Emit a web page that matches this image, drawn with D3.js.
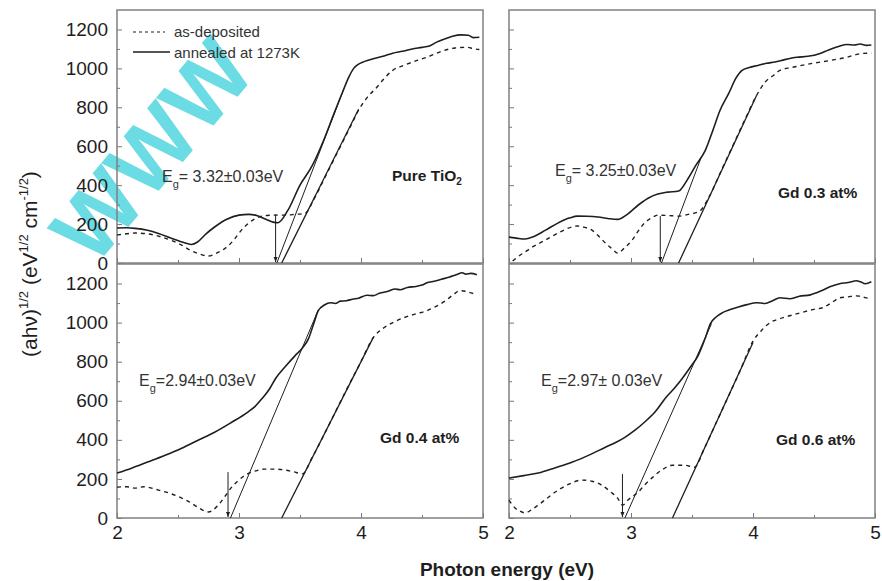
<!DOCTYPE html>
<html><head><meta charset="utf-8">
<script src="https://cdn.jsdelivr.net/npm/d3@7"></script>
<style>
body{margin:0;background:#fff;}
text{font-family:"Liberation Sans",Arial,sans-serif;}
</style>
</head><body>
<svg id="chart" width="882" height="581"></svg>
<script>
// ---------- DATA ----------
const xTickValues = [2, 3, 4, 5];
const xMinorTicks = [2.5, 3.5, 4.5];
const yTickValues = [0, 200, 400, 600, 800, 1000, 1200];
const yMinorTicks = [100, 300, 500, 700, 900, 1100];
const seriesNames = ["as-deposited", "annealed at 1273K"];
const panelTitles = ["Pure TiO", "Gd 0.3 at%", "Gd 0.4 at%", "Gd 0.6 at%"];
const gapLabels = ["3.32\u00B10.03eV", "3.25\u00B10.03eV", "2.94\u00B10.03eV", "2.97\u00B1 0.03eV"];

// Pure TiO2
const tio2Annealed = [[2.00,180],[2.08,181],[2.15,178],[2.25,168],[2.34,152],[2.45,126],[2.56,103],[2.61,95],[2.66,108],[2.73,150],[2.80,185],[2.90,225],[3.00,246],[3.08,250],[3.15,243],[3.22,225],[3.28,210],[3.32,207],[3.40,270],[3.50,400],[3.60,500],[3.70,640],[3.78,770],[3.85,880],[3.90,955],[3.94,1000],[3.98,1022],[4.03,1036],[4.10,1050],[4.18,1062],[4.26,1078],[4.34,1088],[4.42,1100],[4.50,1108],[4.56,1115],[4.62,1135],[4.68,1150],[4.75,1165],[4.82,1172],[4.88,1170],[4.92,1158],[4.97,1160]];
const tio2Deposited = [[2.00,144],[2.08,150],[2.15,154],[2.25,150],[2.34,138],[2.45,115],[2.53,92],[2.60,66],[2.66,50],[2.75,36],[2.82,52],[2.89,77],[2.96,120],[3.02,169],[3.09,210],[3.16,236],[3.23,244],[3.30,246],[3.38,246],[3.46,250],[3.54,255],[3.62,335],[3.72,460],[3.82,585],[3.92,710],[3.98,785],[4.05,850],[4.13,903],[4.20,955],[4.26,990],[4.35,1015],[4.46,1041],[4.56,1062],[4.67,1090],[4.77,1105],[4.87,1108],[4.93,1100],[4.97,1097]];
const tio2TangentAnnealed = [[3.31,0],[3.86,895]];
const tio2TangentDeposited = [[3.35,0],[3.98,790]];
const tio2Arrow = [3.30, 250];

// Gd 0.3 at%
const gd03Annealed = [[2.00,133],[2.06,128],[2.13,123],[2.20,135],[2.30,169],[2.40,205],[2.50,232],[2.56,241],[2.64,240],[2.73,236],[2.81,229],[2.89,224],[2.97,250],[3.06,298],[3.14,333],[3.22,354],[3.30,364],[3.39,370],[3.46,426],[3.53,500],[3.61,580],[3.67,680],[3.73,785],[3.80,870],[3.86,950],[3.91,990],[3.97,1005],[4.04,1015],[4.11,1026],[4.18,1033],[4.26,1045],[4.36,1057],[4.45,1062],[4.55,1077],[4.62,1095],[4.70,1112],[4.77,1123],[4.83,1120],[4.88,1125],[4.93,1118],[4.97,1120]];
const gd03Deposited = [[2.03,10],[2.09,40],[2.13,56],[2.20,85],[2.30,118],[2.42,160],[2.56,190],[2.62,183],[2.68,169],[2.74,135],[2.79,103],[2.85,70],[2.89,51],[2.95,80],[3.01,118],[3.06,165],[3.11,205],[3.17,232],[3.22,246],[3.30,244],[3.39,241],[3.47,250],[3.56,265],[3.64,340],[3.74,475],[3.84,610],[3.94,745],[4.03,862],[4.10,930],[4.17,965],[4.22,990],[4.32,1005],[4.42,1018],[4.49,1026],[4.58,1035],[4.67,1045],[4.77,1057],[4.85,1072],[4.90,1077],[4.97,1078]];
const gd03TangentAnnealed = [[3.25,0],[3.58,550]];
const gd03TangentDeposited = [[3.39,0],[4.03,862]];
const gd03Arrow = [3.24, 241];

// Gd 0.4 at%
const gd04Annealed = [[2.00,230],[2.12,255],[2.25,286],[2.39,320],[2.53,357],[2.66,397],[2.80,439],[2.94,490],[3.07,541],[3.13,570],[3.19,612],[3.25,660],[3.30,714],[3.38,775],[3.46,831],[3.52,870],[3.57,918],[3.61,990],[3.65,1061],[3.70,1090],[3.75,1102],[3.79,1098],[3.83,1110],[3.88,1112],[3.93,1120],[3.98,1125],[4.05,1140],[4.10,1138],[4.15,1150],[4.22,1160],[4.28,1172],[4.32,1168],[4.38,1180],[4.45,1185],[4.50,1192],[4.54,1204],[4.60,1212],[4.66,1222],[4.72,1232],[4.78,1245],[4.83,1255],[4.86,1248],[4.90,1252],[4.95,1245]];
const gd04Deposited = [[2.00,158],[2.08,160],[2.15,153],[2.22,160],[2.34,143],[2.44,125],[2.53,102],[2.60,80],[2.66,56],[2.75,31],[2.83,66],[2.89,115],[2.94,158],[3.00,195],[3.05,219],[3.13,240],[3.21,250],[3.30,250],[3.38,245],[3.45,236],[3.52,226],[3.60,310],[3.70,430],[3.80,555],[3.90,680],[4.00,800],[4.10,923],[4.18,970],[4.26,1000],[4.35,1025],[4.45,1045],[4.54,1061],[4.62,1085],[4.70,1115],[4.76,1145],[4.81,1163],[4.86,1160],[4.90,1152],[4.95,1145]];
const gd04TangentAnnealed = [[2.93,0],[3.65,1065]];
const gd04TangentDeposited = [[3.35,0],[4.10,923]];
const gd04Arrow = [2.91, 235];

// Gd 0.6 at%
const gd06Annealed = [[2.00,204],[2.12,217],[2.24,230],[2.38,257],[2.52,286],[2.66,323],[2.79,362],[2.87,385],[2.95,413],[3.03,448],[3.11,490],[3.20,545],[3.28,612],[3.35,660],[3.42,714],[3.49,775],[3.55,831],[3.61,923],[3.65,994],[3.70,1030],[3.75,1051],[3.82,1068],[3.88,1080],[3.95,1092],[4.03,1102],[4.10,1098],[4.16,1112],[4.22,1127],[4.30,1122],[4.38,1135],[4.47,1142],[4.55,1160],[4.63,1183],[4.71,1199],[4.78,1205],[4.85,1214],[4.88,1209],[4.92,1199],[4.97,1209]];
const gd06Deposited = [[2.00,92],[2.05,51],[2.09,35],[2.13,26],[2.18,40],[2.24,66],[2.31,100],[2.38,133],[2.48,170],[2.60,194],[2.68,188],[2.76,168],[2.83,135],[2.89,102],[2.93,66],[2.98,95],[3.06,133],[3.11,168],[3.17,204],[3.25,245],[3.34,270],[3.44,270],[3.52,260],[3.60,355],[3.70,490],[3.80,625],[3.90,762],[4.00,905],[4.07,960],[4.14,1000],[4.22,1020],[4.30,1035],[4.40,1052],[4.50,1068],[4.57,1076],[4.64,1100],[4.71,1127],[4.78,1132],[4.85,1137],[4.92,1128],[4.97,1122]];
const gd06TangentAnnealed = [[2.95,0],[3.66,995]];
const gd06TangentDeposited = [[3.34,0],[4.00,898]];
const gd06Arrow = [2.93, 225];

// ---------- LAYOUT ----------
const panels = [
  {l:117, r:483, t:10,  b:263, annealed:tio2Annealed, deposited:tio2Deposited, tangents:[tio2TangentAnnealed,tio2TangentDeposited], arrow:tio2Arrow, title:panelTitles[0], sub2:true, titlePos:[392,181], gap:gapLabels[0], gapPos:[162,182], gapSpace:true, yLabels:true, xLabels:false, legend:true},
  {l:509, r:875, t:10,  b:263, annealed:gd03Annealed, deposited:gd03Deposited, tangents:[gd03TangentAnnealed,gd03TangentDeposited], arrow:gd03Arrow, title:panelTitles[1], titlePos:[778,198], gap:gapLabels[1], gapPos:[555,176], gapSpace:true, yLabels:false, xLabels:false},
  {l:117, r:483, t:264, b:518, annealed:gd04Annealed, deposited:gd04Deposited, tangents:[gd04TangentAnnealed,gd04TangentDeposited], arrow:gd04Arrow, title:panelTitles[2], titlePos:[380,443], gap:gapLabels[2], gapPos:[139,386], yLabels:true, xLabels:true},
  {l:509, r:875, t:264, b:518, annealed:gd06Annealed, deposited:gd06Deposited, tangents:[gd06TangentAnnealed,gd06TangentDeposited], arrow:gd06Arrow, title:panelTitles[3], titlePos:[776,445], gap:gapLabels[3], gapPos:[541,386], yLabels:false, xLabels:true}
];

const ink = "#1e1e1e";
const svg = d3.select("#chart");
svg.append("rect").attr("width",882).attr("height",581).attr("fill","#fff");

// watermark (behind everything), sized to stay inside the picture
svg.append("text")
  .attr("transform","translate(94,268) rotate(-50)")
  .attr("font-size",90).attr("font-weight","bold")
  .attr("fill","#5cd8e2").attr("opacity",0.9)
  .text("WWW");

svg.append("defs").append("marker")
  .attr("id","arr").attr("viewBox","0 0 10 10").attr("refX",10).attr("refY",5)
  .attr("markerWidth",5).attr("markerHeight",7).attr("orient","auto")
  .append("path").attr("d","M0,1 L10,5 L0,9 Z").attr("fill",ink);

panels.forEach(p => {
  const x = d3.scaleLinear().domain([2,5]).range([p.l,p.r]);
  const y = d3.scaleLinear().domain([0,1300]).range([p.b,p.t]);
  const g = svg.append("g");

  const line = d3.line().x(d=>x(d[0])).y(d=>y(d[1])).curve(d3.curveMonotoneX);
  const straight = d3.line().x(d=>x(d[0])).y(d=>y(d[1]));

  const xa = g.append("g").attr("transform",`translate(0,${p.b})`)
    .call(d3.axisBottom(x).tickValues(xTickValues).tickSizeInner(-5).tickSizeOuter(0).tickPadding(8).tickFormat(p.xLabels? d3.format("d") : ""));
  const xm = g.append("g").attr("transform",`translate(0,${p.b})`)
    .call(d3.axisBottom(x).tickValues(xMinorTicks).tickSizeInner(-3).tickSizeOuter(0).tickFormat(""));
  const ya = g.append("g").attr("transform",`translate(${p.l},0)`)
    .call(d3.axisLeft(y).tickValues(yTickValues).tickSizeInner(-5).tickSizeOuter(0).tickPadding(9).tickFormat(p.yLabels? d3.format("d") : ""));
  const ym = g.append("g").attr("transform",`translate(${p.l},0)`)
    .call(d3.axisLeft(y).tickValues(yMinorTicks).tickSizeInner(-3).tickSizeOuter(0).tickFormat(""));
  [xa,xm,ya,ym].forEach(a=>{
    a.select(".domain").remove();
    a.selectAll("line").attr("stroke","#777").attr("stroke-width",1);
    a.selectAll("text").attr("font-size",19).attr("fill",ink).attr("font-family","Liberation Sans, Arial, sans-serif");
  });

  g.append("rect").attr("x",p.l).attr("y",p.t).attr("width",p.r-p.l).attr("height",p.b-p.t)
    .attr("fill","none").attr("stroke","#808080").attr("stroke-width",1.5);

  p.tangents.forEach((t,i)=>{
    g.append("path").attr("d",straight(t)).attr("fill","none").attr("stroke",ink).attr("stroke-width",i===0?1:1.3);
  });
  g.append("path").attr("d",line(p.deposited)).attr("fill","none").attr("stroke",ink)
    .attr("stroke-width",1.4).attr("stroke-dasharray","4,4");
  g.append("path").attr("d",line(p.annealed)).attr("fill","none").attr("stroke",ink)
    .attr("stroke-width",1.6);

  g.append("line").attr("x1",x(p.arrow[0])).attr("x2",x(p.arrow[0]))
    .attr("y1",y(p.arrow[1])).attr("y2",y(0)-1)
    .attr("stroke",ink).attr("stroke-width",1).attr("marker-end","url(#arr)");

  const tt = g.append("text").attr("x",p.titlePos[0]).attr("y",p.titlePos[1])
    .attr("font-size",15.5).attr("font-weight","bold").attr("fill",ink).text(p.title);
  if (p.sub2) tt.append("tspan").attr("font-size",10).attr("dy",4).text("2");

  const gt = g.append("text").attr("x",p.gapPos[0]).attr("y",p.gapPos[1])
    .attr("font-size",16).attr("fill","#333");
  gt.append("tspan").text("E");
  gt.append("tspan").attr("font-size",11).attr("dy",6).text("g");
  gt.append("tspan").attr("dy",-6).text("=" + (p.gapSpace? " ":"") + p.gap);

  if (p.legend) {
    const lg = g.append("g");
    lg.append("line").attr("x1",133).attr("x2",165).attr("y1",32).attr("y2",32)
      .attr("stroke",ink).attr("stroke-width",1.2).attr("stroke-dasharray","3,3");
    lg.append("text").attr("x",174).attr("y",37).attr("font-size",15).attr("fill","#333").text(seriesNames[0]);
    lg.append("line").attr("x1",133).attr("x2",170).attr("y1",52).attr("y2",52)
      .attr("stroke",ink).attr("stroke-width",1.4);
    lg.append("text").attr("x",174).attr("y",58).attr("font-size",15).attr("fill","#333").text(seriesNames[1]);
  }
});

svg.append("text").attr("x",507).attr("y",576).attr("text-anchor","middle")
  .attr("font-size",19).attr("font-weight","bold").attr("fill",ink).text("Photon energy (eV)");

const yt = svg.append("text").attr("transform","translate(37,264) rotate(-90)")
  .attr("text-anchor","middle").attr("font-size",21).attr("fill",ink);
yt.append("tspan").text("(ah\u03BD)");
yt.append("tspan").attr("font-size",13).attr("dy",-9).text("1/2");
yt.append("tspan").attr("dy",9).text(" (eV");
yt.append("tspan").attr("font-size",13).attr("dy",-9).text("1/2");
yt.append("tspan").attr("dy",9).text(" cm");
yt.append("tspan").attr("font-size",13).attr("dy",-9).text("-1/2");
yt.append("tspan").attr("dy",9).text(")");
</script>
</body></html>
